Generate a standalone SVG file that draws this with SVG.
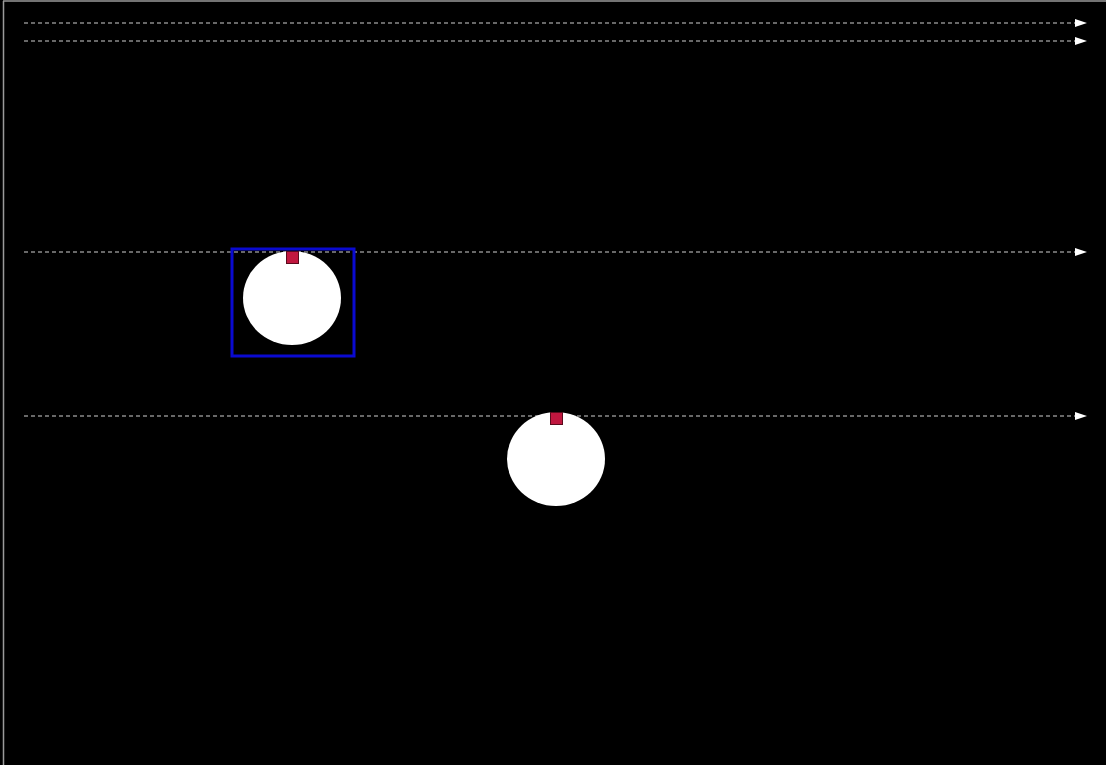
<svg xmlns="http://www.w3.org/2000/svg" width="1106" height="765" viewBox="0 0 1106 765">
  <style>
    .lane { stroke: #d0d0d0; stroke-width: 1.2; stroke-dasharray: 4 3; fill: none; }
    .token { fill: #ffffff; stroke: none; }
    .port { fill: #c0173f; stroke: #5a0a1c; stroke-width: 1; }
    .sel { fill: none; stroke: #0a0ad0; stroke-width: 3; }
  </style>
  <defs>
    <marker id="arr" viewBox="0 0 12 8" refX="0" refY="4" markerWidth="12" markerHeight="8" markerUnits="userSpaceOnUse" orient="auto">
      <path d="M0,0 L12,4 L0,8 Z" fill="#ffffff"/>
    </marker>
  </defs>
  <rect x="0" y="0" width="1106" height="765" fill="#000000"/>
  <line x1="3.5" y1="1" x2="3.5" y2="765" stroke="#9a9a9a" stroke-width="1.5"/>
  <line x1="3" y1="1" x2="1106" y2="1" stroke="#9a9a9a" stroke-width="1.5"/>
  <g id="connectors">
    <line class="lane" x1="24" y1="23" x2="1075" y2="23" marker-end="url(#arr)"/>
    <line class="lane" x1="24" y1="41" x2="1075" y2="41" marker-end="url(#arr)"/>
    <line class="lane" x1="24" y1="252" x2="1075" y2="252" marker-end="url(#arr)"/>
    <line class="lane" x1="24" y1="416" x2="1075" y2="416" marker-end="url(#arr)"/>
  </g>
  <g id="node1">
    <rect class="sel" x="232" y="249" width="122" height="107"/>
    <ellipse class="token" cx="292" cy="298" rx="49" ry="47"/>
    <rect class="port" x="286.5" y="251.5" width="12" height="12"/>
  </g>
  <g id="node2">
    <ellipse class="token" cx="556" cy="459" rx="49" ry="47"/>
    <rect class="port" x="550.5" y="412.5" width="12" height="12"/>
  </g>
</svg>
